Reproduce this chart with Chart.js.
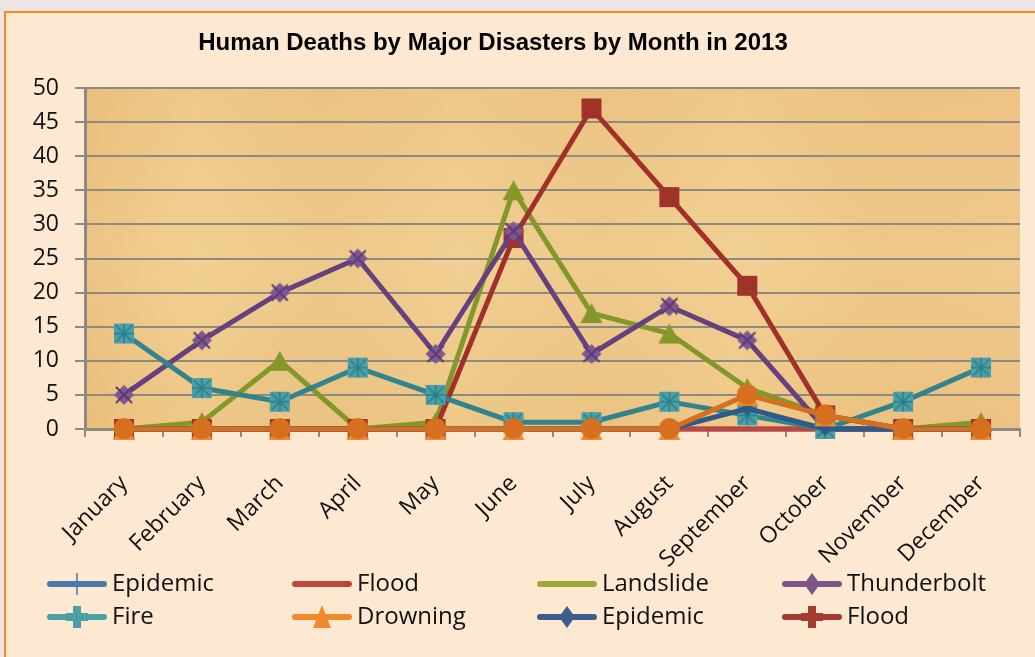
<!DOCTYPE html>
<html><head><meta charset="utf-8">
<script src="https://cdn.jsdelivr.net/npm/chart.js@4.4.1/dist/chart.umd.min.js"></script>
<style>
html,body{margin:0;padding:0;width:1035px;height:657px;overflow:hidden;background:#EFE4E3;}
#frame{position:absolute;left:4px;top:11px;width:1100px;height:700px;background:#FDE8D2;border:2px solid #F28C1E;}
#wrap{position:absolute;left:0;top:0;width:1035px;height:657px;}
</style></head><body>
<div id="frame"></div>
<div id="wrap"><canvas id="c" width="1035" height="657"></canvas></div>
<script>
const chartTitle = 'Human Deaths by Major Disasters by Month in 2013';
const months = ['January','February','March','April','May','June','July','August','September','October','November','December'];
const yTicks = [0,5,10,15,20,25,30,35,40,45,50];
const seriesNames = ['Epidemic','Flood','Landslide','Thunderbolt','Fire','Drowning','Epidemic','Flood'];
const epidemicA   = [0,0,0,0,0,0,0,0,0,0,0,0];
const floodA      = [0,0,0,0,0,0,0,0,0,0,0,0];
const landslide   = [0,1,10,0,1,35,17,14,6,2,0,1];
const thunderbolt = [5,13,20,25,11,29,11,18,13,0,0,0];
const fire        = [14,6,4,9,5,1,1,4,2,0,4,9];
const drowning    = [0,0,0,0,0,0,0,0,5,2,0,0];
const epidemicB   = [0,0,0,0,0,0,0,0,3,0,0,0];
const floodB      = [0,0,0,0,0,28,47,34,21,2,0,0];

const FONT = '"Open Sans", "DejaVu Sans", sans-serif';

function mk(w,h,draw){const c=document.createElement('canvas');c.width=w;c.height=h;const x=c.getContext('2d');draw(x,w,h);return c;}
const mkSquare = mk(22,22,(x,w,h)=>{x.fillStyle='#A0322C';x.fillRect(1,1,20,20);});
const mkFire = mk(22,22,(x,w,h)=>{x.fillStyle='#4A9FA8';x.fillRect(1,1,20,20);x.strokeStyle='#2E7E88';x.lineWidth=1.5;
  x.beginPath();x.moveTo(11,1);x.lineTo(11,21);x.moveTo(1,11);x.lineTo(21,11);x.moveTo(3,3);x.lineTo(19,19);x.moveTo(19,3);x.lineTo(3,19);x.stroke();});
const mkThunder = mk(24,24,(x,w,h)=>{x.fillStyle='#7D5892';x.beginPath();x.moveTo(12,2);x.lineTo(22,12);x.lineTo(12,22);x.lineTo(2,12);x.closePath();x.fill();
  x.strokeStyle='#5C3C74';x.lineWidth=2;x.beginPath();x.moveTo(4,4);x.lineTo(20,20);x.moveTo(20,4);x.lineTo(4,20);x.stroke();});
const mkTri = mk(24,22,(x,w,h)=>{x.fillStyle='#84982A';x.beginPath();x.moveTo(12,1);x.lineTo(23,21);x.lineTo(1,21);x.closePath();x.fill();});
const mkDrown = mk(24,24,(x,w,h)=>{x.fillStyle='#F08A2C';x.beginPath();x.moveTo(12,4);x.lineTo(23,23);x.lineTo(1,23);x.closePath();x.fill();
  x.fillStyle='#D6701F';x.beginPath();x.arc(12,11.5,10.5,0,Math.PI*2);x.fill();});
const mkEpi = mk(16,16,(x,w,h)=>{x.fillStyle='#2E5A88';x.beginPath();x.moveTo(8,1);x.lineTo(15,8);x.lineTo(8,15);x.lineTo(1,8);x.closePath();x.fill();});

const legendItems = [
  {name:seriesNames[0], color:'#4A7AAA', marker:'vline'},
  {name:seriesNames[1], color:'#C0463D', marker:'none'},
  {name:seriesNames[2], color:'#A0AA38', marker:'none'},
  {name:seriesNames[3], color:'#7E5489', marker:'diamond'},
  {name:seriesNames[4], color:'#4B9FA6', marker:'plus'},
  {name:seriesNames[5], color:'#F08A2C', marker:'triangle'},
  {name:seriesNames[6], color:'#3A5F8A', marker:'diamond'},
  {name:seriesNames[7], color:'#A23B30', marker:'plus'}
];

const decor = {
  id:'decor',
  beforeDraw(chart){
    const {ctx, chartArea:a} = chart;
    ctx.save();
    ctx.fillStyle = '#EDC88A';
    ctx.fillRect(a.left, a.top, a.right-a.left, a.bottom-a.top);
    const g = ctx.createLinearGradient(a.left,0,a.right,0);
    const st = [[0,'rgba(230,170,100,0.35)'],[0.12,'rgba(245,215,150,0.25)'],[0.25,'rgba(225,180,110,0.2)'],[0.4,'rgba(245,210,150,0.3)'],[0.55,'rgba(228,185,115,0.2)'],[0.7,'rgba(248,215,155,0.25)'],[0.85,'rgba(232,180,110,0.25)'],[1,'rgba(240,190,130,0.35)']];
    st.forEach(s=>g.addColorStop(s[0],s[1]));
    ctx.fillStyle = g; ctx.fillRect(a.left, a.top, a.right-a.left, a.bottom-a.top);
    const g2 = ctx.createLinearGradient(0,a.top,0,a.bottom);
    g2.addColorStop(0,'rgba(235,190,120,0.2)');g2.addColorStop(0.5,'rgba(250,222,165,0.2)');g2.addColorStop(1,'rgba(232,188,118,0.2)');
    ctx.fillStyle = g2; ctx.fillRect(a.left, a.top, a.right-a.left, a.bottom-a.top);
    ctx.restore();
  },
  afterDraw(chart){
    const ctx = chart.ctx;
    ctx.save();
    ctx.fillStyle = '#000';
    ctx.font = 'bold 24px "Liberation Sans", Arial, sans-serif';
    ctx.textAlign = 'center'; ctx.textBaseline = 'middle';
    ctx.fillText(chartTitle, 493, 43);
    const colX = [50, 295, 540, 785];
    const rowY = [584, 617];
    legendItems.forEach((it,i)=>{
      const cx = colX[i%4], cy = rowY[Math.floor(i/4)];
      ctx.strokeStyle = it.color; ctx.lineWidth = 6; ctx.lineCap='round';
      ctx.beginPath(); ctx.moveTo(cx, cy); ctx.lineTo(cx+54, cy); ctx.stroke();
      const mx = cx+27;
      ctx.fillStyle = it.color;
      if(it.marker==='vline'){ctx.lineWidth=1.5;ctx.lineCap='butt';ctx.beginPath();ctx.moveTo(mx,cy-11);ctx.lineTo(mx,cy+11);ctx.stroke();}
      else if(it.marker==='diamond'){ctx.beginPath();ctx.moveTo(mx,cy-11);ctx.lineTo(mx+8,cy);ctx.lineTo(mx,cy+11);ctx.lineTo(mx-8,cy);ctx.closePath();ctx.fill();}
      else if(it.marker==='plus'){ctx.fillRect(mx-4,cy-11,8,22);ctx.fillRect(mx-11,cy-4,22,8);}
      else if(it.marker==='triangle'){ctx.beginPath();ctx.moveTo(mx,cy-12);ctx.lineTo(mx+9,cy+11);ctx.lineTo(mx-9,cy+11);ctx.closePath();ctx.fill();}
      ctx.fillStyle = '#111';
      ctx.font = '24px ' + FONT;
      ctx.textAlign='left'; ctx.textBaseline='middle';
      ctx.fillText(it.name, cx+62, cy);
    });
    ctx.restore();
  }
};

function ds(label, data, color, img, order){
  return {label, data, borderColor:color, backgroundColor:color, borderWidth:5, pointStyle: img || false,
    pointRadius: img?10:0, pointHoverRadius: img?10:0, tension:0, order, clip:false};
}

new Chart(document.getElementById('c'), {
  type:'line',
  data:{
    labels: months,
    datasets:[
      ds(seriesNames[0], epidemicA, '#4A7AAA', null, 8),
      ds(seriesNames[1], floodA, '#C0463D', null, 7),
      ds(seriesNames[2], landslide, '#83972A', mkTri, 6),
      ds(seriesNames[3], thunderbolt, '#65417D', mkThunder, 4),
      ds(seriesNames[4], fire, '#31848E', mkFire, 3),
      ds(seriesNames[5], drowning, '#D5701F', mkDrown, 1),
      ds(seriesNames[6], epidemicB, '#2D5A88', mkEpi, 2),
      ds(seriesNames[7], floodB, '#A1302B', mkSquare, 5)
    ]
  },
  options:{
    responsive:false, animation:false, devicePixelRatio:1,
    layout:{padding:{left:0,right:14,top:88,bottom:0}},
    plugins:{legend:{display:false}, title:{display:false}, tooltip:{enabled:false}},
    scales:{
      x:{
        offset:true,
        grid:{offset:true, drawOnChartArea:false, drawTicks:true, tickLength:8, color:'#8F8A80', lineWidth:2},
        border:{display:true, color:'#8F8A80', width:3},
        ticks:{color:'#111', font:{family:FONT, size:23}, minRotation:45, maxRotation:45, autoSkip:false, padding:33},
        afterFit(s){ s.height = 228; }
      },
      y:{
        min:0, max:50,
        afterBuildTicks(s){ s.ticks = yTicks.map(v=>({value:v})); },
        grid:{color:'#8F8A80', lineWidth:2, tickLength:10, drawTicks:true},
        border:{display:true, color:'#8F8A80', width:3},
        ticks:{color:'#111', font:{family:FONT, size:23}, padding:16},
        afterFit(s){ s.width = 85; }
      }
    }
  },
  plugins:[decor]
});
</script>
</body></html>
